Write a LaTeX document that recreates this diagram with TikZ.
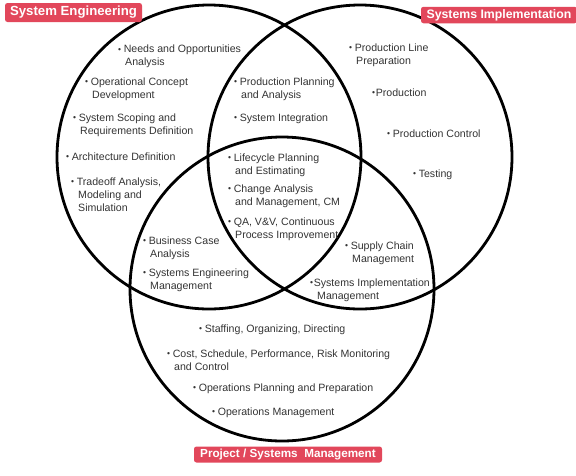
\documentclass[tikz,border=0pt]{standalone}
\usepackage{fontspec}
\setmainfont{Liberation Sans}
\definecolor{labred}{HTML}{E2475B}
\definecolor{txt}{HTML}{333333}
\newcommand{\bl}{{\fontsize{8.5}{8}\selectfont\raisebox{0.4pt}{•}}\hspace{2.6pt}}
\newcommand{\blx}{{\fontsize{8.5}{8}\selectfont\raisebox{0.4pt}{•}}\hspace{0.6pt}}
\newcommand{\ind}{\hspace*{7pt}}
\begin{document}
\begin{tikzpicture}[x=1pt,y=-1pt,
  venn/.style={circle,draw=black,line width=2.8pt,minimum size=304pt,inner sep=0pt},
  item/.style={anchor=base west,inner sep=0pt,align=left,text=txt,
    font=\fontsize{10.6}{13}\selectfont},
  tag/.style={fill=labred,text=white,rounded corners=2.5pt,inner sep=0pt,
    font=\bfseries}]
\useasboundingbox (0,0) rectangle (576,475);
\node[venn] (se) at (209,157) {};
\node[venn] (si) at (360,157) {};
\node[venn] (pm) at (282,289) {};

\node[tag,minimum width=137pt,minimum height=19pt,font=\bfseries\fontsize{13.2}{14}\selectfont] (lse) at (73.5,12.5) {System Engineering};
\node[tag,minimum width=156pt,minimum height=16.5pt,font=\bfseries\fontsize{12.3}{13}\selectfont] (lsi) at (499,15) {Systems Implementation};
\node[tag,minimum width=188pt,minimum height=16pt,font=\bfseries\fontsize{11.7}{13}\selectfont] (lpm) at (288,454.5) {Project / Systems\ \ Management};

% base anchor of a multi-line node lies on its last line
\node[item] (t1) at (118,65.5) {\bl Needs and Opportunities\\\ind Analysis};
\node[item] (t2) at (85,98) {\bl Operational Concept\\\ind Development};
\node[item] (t3) at (73,134) {\bl System Scoping and\\\ind Requirements Definition};
\node[item] (t4) at (66,160) {\bl Architecture Definition};
\node[item] (t5) at (71,211) {\bl Tradeoff Analysis,\\\ind Modeling and\\\ind Simulation};

\node[item] (t6) at (234,98) {\bl Production Planning\\\ind and Analysis};
\node[item] (t7) at (234,121) {\bl System Integration};

\node[item] (t8) at (228,174) {\bl Lifecycle Planning\\\ind and Estimating};
\node[item] (t9) at (228,205) {\bl Change Analysis\\\ind and Management, CM};
\node[item] (t10) at (228,238) {\bl QA, V\&V, Continuous\\\ind Process Improvement};

\node[item] (t11) at (349,64) {\bl Production Line\\\ind Preparation};
\node[item] (t12) at (372,96) {\blx Production};
\node[item] (t13) at (387,137) {\bl Production Control};
\node[item] (t14) at (413,177) {\bl Testing};

\node[item] (t15) at (143,257) {\bl Business Case\\\ind Analysis};
\node[item] (t16) at (143,289) {\bl Systems Engineering\\\ind Management};

\node[item] (t17) at (345,262) {\bl Supply Chain\\\ind Management};
\node[item] (t18) at (310,299) {\blx Systems Implementation\\\ind Management};

\node[item] (t19) at (199,332) {\bl Staffing, Organizing, Directing};
\node[item] (t20) at (167,370) {\bl Cost, Schedule, Performance, Risk Monitoring\\\ind and Control};
\node[item] (t21) at (193,391) {\bl Operations Planning and Preparation};
\node[item] (t22) at (212,415) {\bl Operations Management};
\end{tikzpicture}
\end{document}
